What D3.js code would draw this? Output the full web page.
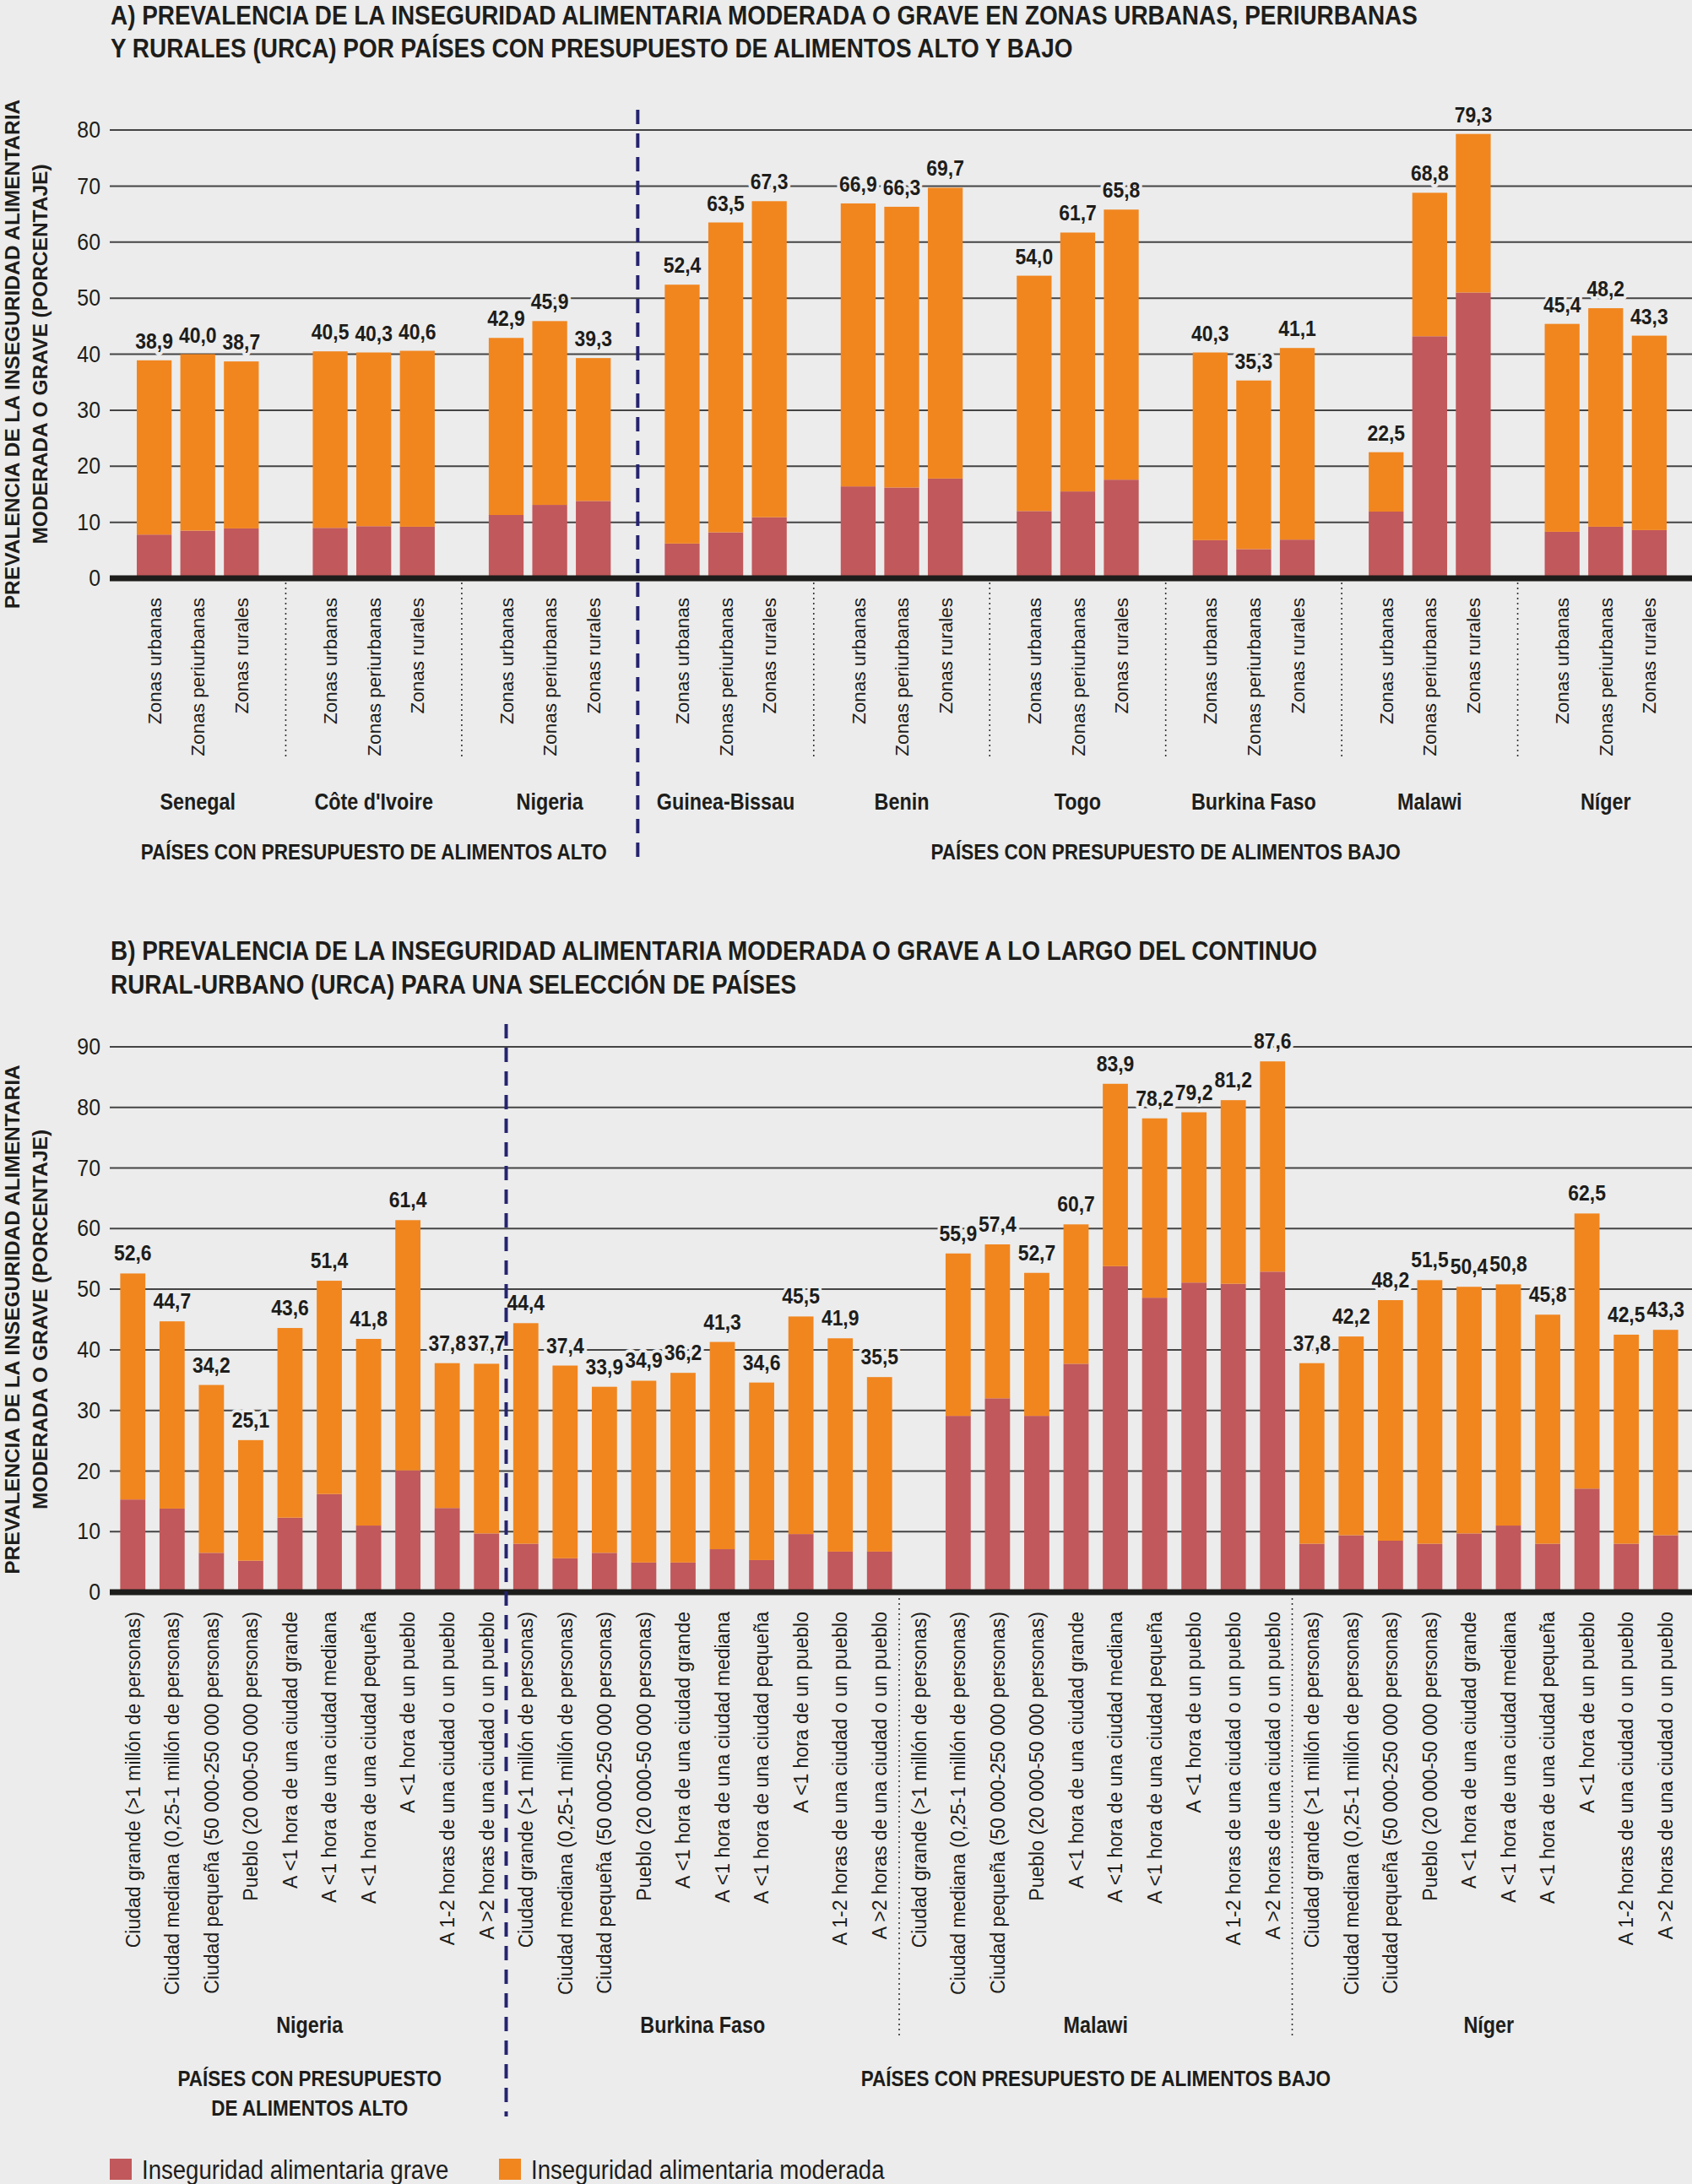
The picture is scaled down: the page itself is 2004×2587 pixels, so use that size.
<!DOCTYPE html>
<html><head><meta charset="utf-8">
<script src="https://cdn.jsdelivr.net/npm/d3@7"></script>
<style>
html,body{margin:0;padding:0;background:#ececec;}
svg{display:block;}
text{font-family:"Liberation Sans", Arial, sans-serif; fill:#1d1d1b;}
</style></head><body>
<svg id="c" width="2004" height="2587"></svg>
<script>
// ---------- DATA ----------
const legendLabels = ["Inseguridad alimentaria grave", "Inseguridad alimentaria moderada"];
const yTitle = ["PREVALENCIA DE LA INSEGURIDAD ALIMENTARIA", "MODERADA O GRAVE (PORCENTAJE)"];

// Panel A
const titleA = ["A) PREVALENCIA DE LA INSEGURIDAD ALIMENTARIA MODERADA O GRAVE EN ZONAS URBANAS, PERIURBANAS",
                "Y RURALES (URCA) POR PAÍSES CON PRESUPUESTO DE ALIMENTOS ALTO Y BAJO"];
const zonesA = ["Zonas urbanas", "Zonas periurbanas", "Zonas rurales"];
const countriesA = ["Senegal", "Côte d'Ivoire", "Nigeria", "Guinea-Bissau", "Benin", "Togo", "Burkina Faso", "Malawi", "Níger"];
const totalA = [[38.9,40.0,38.7],[40.5,40.3,40.6],[42.9,45.9,39.3],[52.4,63.5,67.3],[66.9,66.3,69.7],
                [54.0,61.7,65.8],[40.3,35.3,41.1],[22.5,68.8,79.3],[45.4,48.2,43.3]];
const graveA = [[7.8,8.5,8.9],[9.0,9.3,9.2],[11.3,13.1,13.8],[6.2,8.2,10.9],[16.4,16.2,17.8],
                [12.0,15.5,17.6],[6.8,5.2,6.9],[11.9,43.2,51.0],[8.3,9.2,8.6]];
const groupsA = [{label:"PAÍSES CON PRESUPUESTO DE ALIMENTOS ALTO", from:0, to:2},
                 {label:"PAÍSES CON PRESUPUESTO DE ALIMENTOS BAJO", from:3, to:8}];
const ticksA = [0,10,20,30,40,50,60,70,80];

// Panel B
const titleB = ["B) PREVALENCIA DE LA INSEGURIDAD ALIMENTARIA MODERADA O GRAVE A LO LARGO DEL CONTINUO",
                "RURAL-URBANO (URCA) PARA UNA SELECCIÓN DE PAÍSES"];
const catsB = ["Ciudad grande (>1 millón de personas)", "Ciudad mediana (0,25-1 millón de personas)",
  "Ciudad pequeña (50 000-250 000 personas)", "Pueblo (20 000-50 000 personas)",
  "A <1 hora de una ciudad grande", "A <1 hora de una ciudad mediana", "A <1 hora de una ciudad pequeña",
  "A <1 hora de un pueblo", "A 1-2 horas de una ciudad o un pueblo", "A >2 horas de una ciudad o un pueblo"];
const countriesB = ["Nigeria", "Burkina Faso", "Malawi", "Níger"];
const totalB = [[52.6,44.7,34.2,25.1,43.6,51.4,41.8,61.4,37.8,37.7],
                [44.4,37.4,33.9,34.9,36.2,41.3,34.6,45.5,41.9,35.5],
                [null,55.9,57.4,52.7,60.7,83.9,78.2,79.2,81.2,87.6],
                [37.8,42.2,48.2,51.5,50.4,50.8,45.8,62.5,42.5,43.3]];
const graveB = [[15.3,13.8,6.5,5.2,12.3,16.2,11.0,20.1,13.9,9.7],
                [8.0,5.6,6.5,4.9,4.9,7.1,5.3,9.6,6.7,6.7],
                [null,29.1,32.0,29.1,37.7,53.8,48.6,51.1,50.9,52.9],
                [8.0,9.4,8.5,8.0,9.7,11.0,8.0,17.1,8.0,9.4]];
const groupsB = [{label:["PAÍSES CON PRESUPUESTO","DE ALIMENTOS ALTO"], from:0, to:0},
                 {label:["PAÍSES CON PRESUPUESTO DE ALIMENTOS BAJO"], from:1, to:3}];
const ticksB = [0,10,20,30,40,50,60,70,80,90];

// ---------- STYLE ----------
const BG = "#ececec", RED = "#c1585b", ORANGE = "#f1861f", NAVY = "#26246e", INK = "#1d1d1b";
const COND = 0.865;
const fmt = v => d3.format(".1f")(v).replace(".", ",");

const svg = d3.select("#c");
svg.append("rect").attr("width", 2004).attr("height", 2587).attr("fill", BG);

function condText(g, x, y, str, size, anchor, weight, sc) {
  return g.append("text")
    .attr("transform", `translate(${x},${y}) scale(${sc || COND},1)`)
    .attr("text-anchor", anchor || "start")
    .attr("font-size", size).attr("font-weight", weight || "bold")
    .text(str);
}

function yAxisTitle(yc) {
  const g = svg.append("g");
  yTitle.forEach((t, i) => {
    g.append("text").attr("transform", `translate(${i ? 56 : 23},${yc}) rotate(-90)`)
      .attr("text-anchor", "middle").attr("font-size", 24.5).attr("font-weight", "bold").text(t);
  });
}

function gridAndTicks(y, ticks, x0, x1) {
  const g = svg.append("g");
  g.selectAll("line.grid").data(ticks.filter(t => t > 0)).join("line")
    .attr("x1", x0).attr("x2", x1).attr("y1", d => y(d)).attr("y2", d => y(d))
    .attr("stroke", "#444").attr("stroke-width", 2);
  const ax = g.append("g").attr("transform", `translate(${x0},0)`)
    .call(d3.axisLeft(y).tickValues(ticks).tickSize(0).tickPadding(12).tickFormat(d3.format("d")));
  ax.select(".domain").remove();
  ax.selectAll("text").attr("font-size", 27).attr("font-family", "Liberation Sans, Arial, sans-serif")
    .attr("fill", "#2a2a2a").attr("transform", "scale(0.92,1)");
}

function valueLabels(data, cx, y, off) {
  svg.append("g").selectAll("text").data(data).join("text")
    .attr("transform", d => `translate(${cx(d)},${y(d.total) - off}) scale(${COND},1)`)
    .attr("text-anchor", "middle").attr("font-size", 26.5).attr("font-weight", "bold")
    .attr("stroke", BG).attr("stroke-width", 8).attr("paint-order", "stroke").attr("stroke-linejoin", "round")
    .text(d => fmt(d.total));
}

// ================= PANEL A =================
const yA = d3.scaleLinear().domain([0, 80]).range([685, 154]);
const xA = d3.scaleBand().domain(countriesA).range([130, 2006]).padding(0);
const xAi = d3.scaleBand().domain(zonesA).range([0, xA.bandwidth()]).paddingInner(0.2).paddingOuter(0.62);

titleA.forEach((t, i) => condText(svg, 131, 29 + i * 39, t, 32, "start", "bold", 0.872));
yAxisTitle((yA(0) + yA(80)) / 2);
gridAndTicks(yA, ticksA, 130, 2004);

const recA = [];
countriesA.forEach((c, ci) => zonesA.forEach((z, zi) => {
  recA.push({c, z, total: totalA[ci][zi], grave: graveA[ci][zi]});
}));
const cxA = d => xA(d.c) + xAi(d.z) + xAi.bandwidth() / 2;

const barsA = svg.append("g");
barsA.selectAll("rect.g").data(recA).join("rect")
  .attr("x", d => xA(d.c) + xAi(d.z)).attr("width", xAi.bandwidth())
  .attr("y", d => yA(d.grave)).attr("height", d => yA(0) - yA(d.grave)).attr("fill", RED);
barsA.selectAll("rect.m").data(recA).join("rect")
  .attr("x", d => xA(d.c) + xAi(d.z)).attr("width", xAi.bandwidth())
  .attr("y", d => yA(d.total)).attr("height", d => yA(d.grave) - yA(d.total)).attr("fill", ORANGE);
valueLabels(recA, cxA, yA, 14);

svg.append("line").attr("x1", 130).attr("x2", 2004).attr("y1", yA(0)).attr("y2", yA(0))
  .attr("stroke", INK).attr("stroke-width", 7);

// x labels
svg.append("g").selectAll("text").data(recA).join("text")
  .attr("transform", d => `translate(${cxA(d)},708) rotate(-90)`)
  .attr("text-anchor", "end").attr("dy", "0.36em").attr("font-size", 22.5).text(d => d.z);

// country names
countriesA.forEach(c => condText(svg, xA(c) + xA.bandwidth() / 2, 959, c, 27, "middle"));

// dotted dividers
countriesA.slice(1).forEach((c, i) => {
  if (i + 1 === 3) return;
  svg.append("line").attr("x1", xA(c)).attr("x2", xA(c)).attr("y1", 690).attr("y2", 896)
    .attr("stroke", "#333").attr("stroke-width", 1.6).attr("stroke-dasharray", "2,4");
});
// group labels
groupsA.forEach(gr => {
  const x0 = xA(countriesA[gr.from]), x1 = xA(countriesA[gr.to]) + xA.bandwidth();
  condText(svg, (x0 + x1) / 2, 1018, gr.label, 26, "middle");
});
// dashed separator
svg.append("line").attr("x1", xA(countriesA[3])).attr("x2", xA(countriesA[3]))
  .attr("y1", 130).attr("y2", 1020).attr("stroke", NAVY).attr("stroke-width", 4).attr("stroke-dasharray", "17,11");

// ================= PANEL B =================
const yB = d3.scaleLinear().domain([0, 90]).range([1886, 1240]);
const keysB = [];
countriesB.forEach((c, ci) => catsB.forEach((k, ki) => keysB.push(c + "|" + k)));
const xB = d3.scaleBand().domain(keysB).range([134, 1996]).paddingInner(0.36).paddingOuter(0.18);
const gapB = xB.step() * xB.paddingInner() / 2;

titleB.forEach((t, i) => condText(svg, 131, 1137 + i * 40, t, 32, "start", "bold", 0.872));
yAxisTitle((yB(0) + yB(90)) / 2);
gridAndTicks(yB, ticksB, 130, 2004);

const recB = [];
countriesB.forEach((c, ci) => catsB.forEach((k, ki) => {
  recB.push({key: c + "|" + k, c, k, total: totalB[ci][ki], grave: graveB[ci][ki]});
}));
const withVal = recB.filter(d => d.total != null);
const cxB = d => xB(d.key) + xB.bandwidth() / 2;

const barsB = svg.append("g");
barsB.selectAll("rect.g").data(withVal).join("rect")
  .attr("x", d => xB(d.key)).attr("width", xB.bandwidth())
  .attr("y", d => yB(d.grave)).attr("height", d => yB(0) - yB(d.grave)).attr("fill", RED);
barsB.selectAll("rect.m").data(withVal).join("rect")
  .attr("x", d => xB(d.key)).attr("width", xB.bandwidth())
  .attr("y", d => yB(d.total)).attr("height", d => yB(d.grave) - yB(d.total)).attr("fill", ORANGE);
valueLabels(withVal, cxB, yB, 15);

svg.append("line").attr("x1", 130).attr("x2", 2004).attr("y1", yB(0)).attr("y2", yB(0))
  .attr("stroke", INK).attr("stroke-width", 7);

svg.append("g").selectAll("text").data(recB).join("text")
  .attr("transform", d => `translate(${cxB(d)},1909) rotate(-90)`)
  .attr("text-anchor", "end").attr("dy", "0.36em").attr("font-size", 23).text(d => d.k);

countriesB.forEach(c => {
  const x0 = xB(c + "|" + catsB[0]) - gapB, x1 = xB(c + "|" + catsB[catsB.length - 1]) + xB.bandwidth() + gapB;
  condText(svg, (x0 + x1) / 2, 2408, c, 27, "middle");
});
[2, 3].forEach(ci => {
  const x = xB(countriesB[ci] + "|" + catsB[0]) - gapB;
  svg.append("line").attr("x1", x).attr("x2", x).attr("y1", 1893).attr("y2", 2414)
    .attr("stroke", "#333").attr("stroke-width", 1.6).attr("stroke-dasharray", "2,4");
});
groupsB.forEach(gr => {
  const x0 = xB(countriesB[gr.from] + "|" + catsB[0]) - gapB;
  const x1 = xB(countriesB[gr.to] + "|" + catsB[catsB.length - 1]) + xB.bandwidth() + gapB;
  gr.label.forEach((l, i) => condText(svg, (x0 + x1) / 2, 2471 + i * 35, l, 26, "middle"));
});
{
  const x = xB(countriesB[1] + "|" + catsB[0]) - gapB;
  svg.append("line").attr("x1", x).attr("x2", x).attr("y1", 1213).attr("y2", 2507)
    .attr("stroke", NAVY).attr("stroke-width", 4).attr("stroke-dasharray", "17,11");
}

// ================= LEGEND =================
const legX = [130, 591];
legendLabels.forEach((l, i) => {
  svg.append("rect").attr("x", legX[i]).attr("y", 2557).attr("width", 26).attr("height", 25)
    .attr("fill", i ? ORANGE : RED);
  condText(svg, legX[i] + 38, 2581, l, 31, "start", "normal", 0.89);
});
</script>
</body></html>
